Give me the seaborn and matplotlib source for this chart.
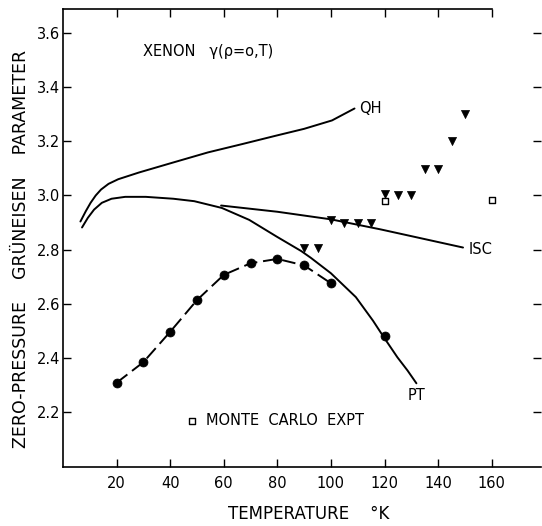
import numpy as np
import pandas as pd
import matplotlib
matplotlib.use("Agg")
import matplotlib.pyplot as plt
import seaborn as sns

# calculated curves
qh_t = [6.5, 8.5, 10.3, 12.2, 14.2, 17.0, 20.6, 28.4, 41.2, 54.1, 67.0, 79.6, 90.0, 100.4, 108.8]
qh_g = [2.904, 2.942, 2.973, 3.000, 3.022, 3.043, 3.060, 3.085, 3.122, 3.159, 3.190, 3.221, 3.246, 3.277, 3.321]

pt_t = [7.1, 9.3, 11.6, 14.5, 18.1, 23.2, 30.9, 41.2, 49.0, 59.3, 69.5, 79.8, 88.9, 92.5,
        100.0, 109.3, 115.7, 119.6, 124.8, 128.6, 131.9]
pt_g = [2.882, 2.918, 2.948, 2.973, 2.988, 2.995, 2.995, 2.988, 2.979, 2.954, 2.910, 2.848, 2.795, 2.770,
        2.713, 2.625, 2.538, 2.479, 2.403, 2.354, 2.307]

isc_t = [59.0, 80.0, 100.0, 118.5, 130.0, 149.3]
isc_g = [2.963, 2.940, 2.912, 2.875, 2.850, 2.808]

# circles joined by the dashed curve
circ_t = [20, 30, 40, 50, 60, 70, 80, 90, 100]
circ_g = [2.309, 2.385, 2.497, 2.614, 2.707, 2.750, 2.766, 2.742, 2.676]
circ_extra_t = [120]
circ_extra_g = [2.480]

# triangles
tri_t = [90, 95, 100, 105, 110, 115, 120, 125, 130, 135, 140, 145, 150]
tri_g = [2.805, 2.805, 2.908, 2.900, 2.900, 2.900, 3.005, 3.000, 3.000, 3.097, 3.097, 3.200, 3.300]

# Monte Carlo squares
mc_t = [120, 160]
mc_g = [2.978, 2.982]

xticks = [20, 40, 60, 80, 100, 120, 140, 160]
yticks = [2.2, 2.4, 2.6, 2.8, 3.0, 3.2, 3.4, 3.6]

sns.set_theme(style="ticks")
plt.rcParams['font.family'] = ['DejaVu Sans']
plt.rcParams['text.color'] = 'black'
plt.rcParams['axes.labelcolor'] = 'black'
plt.rcParams['xtick.color'] = 'black'
plt.rcParams['ytick.color'] = 'black'

fig = plt.figure(figsize=(5.42, 5.26), dpi=100)
ax = fig.add_axes([63 / 542, 59.5 / 526, 478 / 542, 458 / 526])

lw = 1.4
for t, g in [(qh_t, qh_g), (pt_t, pt_g), (isc_t, isc_g)]:
    sns.lineplot(x=t, y=g, ax=ax, color='black', lw=lw, sort=False, estimator=None)

sns.lineplot(x=circ_t, y=circ_g, ax=ax, color='black', lw=lw, sort=False,
             estimator=None, linestyle=(0, (7, 3)))
sns.scatterplot(x=circ_t + circ_extra_t, y=circ_g + circ_extra_g, ax=ax, marker='o',
                s=42, color='black', edgecolor='black', linewidth=0.5, zorder=5)
sns.scatterplot(x=tri_t, y=tri_g, ax=ax, marker='v', s=34, color='black',
                edgecolor='black', linewidth=0.5, zorder=5)
sns.scatterplot(x=mc_t, y=mc_g, ax=ax, marker='s', s=18, facecolor='white',
                edgecolor='black', linewidth=1.0, zorder=6)

fs = 10.5
ax.text(110.5, 3.322, 'QH', fontsize=fs, va='center', ha='left')
ax.text(151.5, 2.800, 'ISC', fontsize=fs, va='center', ha='left')
ax.text(132, 2.262, 'PT', fontsize=fs, va='center', ha='center')
ax.text(29.7, 3.532, 'XENON   \u03b3(\u03c1=o,T)', fontsize=fs, va='center', ha='left')
sns.scatterplot(x=[48.3], y=[2.169], ax=ax, marker='s', s=14, facecolor='white',
                edgecolor='black', linewidth=1.0)
ax.text(53.5, 2.169, 'MONTE  CARLO  EXPT', fontsize=fs, va='center', ha='left')

ax.set_xlim(0, 178.4)
ax.set_ylim(2.0, 3.69)
ax.set_xticks(xticks)
ax.set_xticklabels([str(v) for v in xticks])
ax.set_yticks(yticks)
ax.set_yticklabels([f'{v:.1f}' for v in yticks])
ax.tick_params(direction='in', length=6, width=1, labelsize=10.5, top=True, right=True, pad=7)
ax.tick_params(axis='y', pad=2)
ax.spines['right'].set_visible(False)
ax.spines['top'].set_bounds(0, 160)
for s in ['left', 'bottom', 'top']:
    ax.spines[s].set_linewidth(1.2)
    ax.spines[s].set_color('black')

ax.set_xlabel('TEMPERATURE    \u00b0K', fontsize=12)
ax.xaxis.set_label_coords(0.515, -0.084)
ax.set_ylabel('ZERO-PRESSURE    GR\u00dcNEISEN    PARAMETER', fontsize=12.5)
ax.yaxis.set_label_coords(-0.068, 0.475)

fig.savefig('out.png', dpi=100)
